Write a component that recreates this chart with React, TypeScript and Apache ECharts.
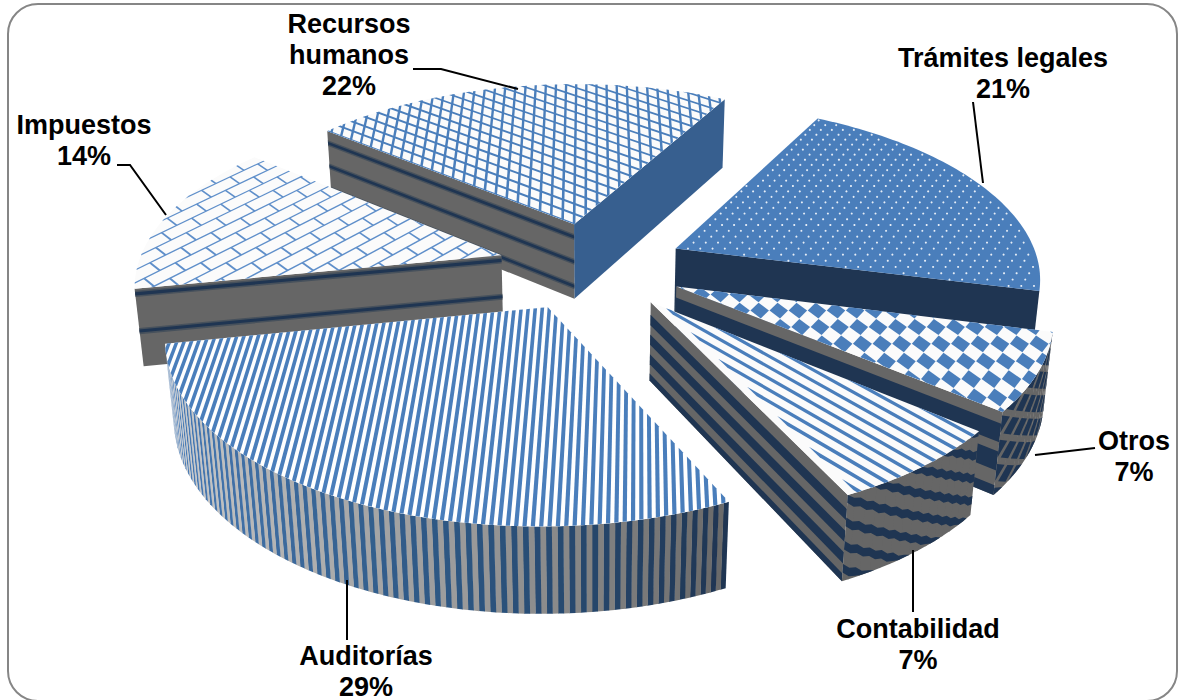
import React, { useEffect, useRef } from "react";
import * as echarts from "echarts";

// Clockwise from the first slice
const categories = ["Trámites legales", "Otros", "Contabilidad", "Auditorías", "Impuestos", "Recursos\nhumanos"];
const percents = [21, 7, 7, 29, 14, 22];
// Back-to-front painting order of the exploded slices
const paintOrder = [5, 0, 4, 1, 3, 2];

const labelAnchors = [[1003, 73], [1134, 456], [918, 644], [366, 671], [84, 140], [349, 55]];
const leaders = [
  [[973, 102], [983, 183]],
  [[1095, 448], [1035, 455]],
  [[913, 550], [913, 612]],
  [[347, 580], [347, 640]],
  [[117, 165], [130, 165], [166, 215]],
  [[413, 69], [441, 69], [518, 89]],
];

// Camera and pie solid, in units of the pie radius
const TILT = 0.4942;
const DIST = 5.8584;
const FOCAL = 2131.9;
const CX = 591.3;
const CY = 266.1;
const THICK = 0.2439;
const START = 0.4986;
const EXPLODE = 0.257;

const BLUE = "#4a7ebb";
const NAVY = "#1f3552";
const GRAY = "#666666";
const PAPER = "#fbfbfb";
const FONT = "bold 27px 'Liberation Sans', Arial, sans-serif";

type P = number[];
const V: P = [0.635, 0.773];
const dot = (a: P, b: P) => a[0] * b[0] + a[1] * b[1];
const dirOf = (t: number): P => [Math.sin(t), Math.cos(t)];
const unit = (a: P): P => {
  const l = Math.hypot(a[0], a[1]);
  return [a[0] / l, a[1] / l];
};

const project = (X: number, Y: number, Z: number): P => {
  const s = Math.sin(TILT), c = Math.cos(TILT);
  const d = DIST + Y * c - Z * s;
  return [CX + (FOCAL * X) / d, CY - (FOCAL * (Y * s + Z * c)) / d];
};

// Keep the part of a convex polygon where p.n >= c
const clip = (poly: P[], n: P, c: number): P[] => {
  const out: P[] = [];
  for (let i = 0; i < poly.length; i++) {
    const a = poly[i], b = poly[(i + 1) % poly.length];
    const da = dot(a, n) - c, db = dot(b, n) - c;
    if (da >= 0) out.push(a);
    if (da * db < 0) {
      const t = da / (da - db);
      out.push([a[0] + (b[0] - a[0]) * t, a[1] + (b[1] - a[1]) * t]);
    }
  }
  return out;
};
const neg = (n: P): P => [-n[0], -n[1]];
const strip = (poly: P[], n: P, a: number, b: number) => clip(clip(poly, n, a), neg(n), -b);

const mix = (a: string, b: string, t: number) => {
  const pa = [1, 3, 5].map((i) => parseInt(a.slice(i, i + 2), 16));
  const pb = [1, 3, 5].map((i) => parseInt(b.slice(i, i + 2), 16));
  return "rgb(" + pa.map((v, i) => Math.round(v + (pb[i] - v) * t)).join(",") + ")";
};

const angleSpans = () => {
  let acc = START;
  return percents.map((v) => {
    const span = (v * 3.6 * Math.PI) / 180;
    const item = { s: acc, e: acc + span, span };
    acc += span;
    return item;
  });
};

function buildSlice(i: number) {
  const { s, e, span } = angleSpans()[i];
  const mid = (s + e) / 2;
  const off: P = [EXPLODE * Math.sin(mid), EXPLODE * Math.cos(mid)];
  const toScreen = (p: P, z = 0) => project(off[0] + p[0], off[1] + p[1], z);
  const out: any[] = [];
  const poly = (pts: P[], fill: string) => {
    if (pts.length > 2) out.push({ type: "polygon", silent: true, shape: { points: pts }, style: { fill, stroke: null } });
  };
  const top = (pts: P[], fill: string) => poly(pts.map((p) => toScreen(p)), fill);

  const sector: P[] = [[0, 0]];
  for (let k = 0; k <= 64; k++) sector.push(dirOf(s + (span * k) / 64));

  const cam: P = [0, -DIST * Math.cos(TILT)];
  const facing = (n: P, p: P) => dot(n, [cam[0] - off[0] - p[0], cam[1] - off[1] - p[1]]) > 0;

  // Cut faces: bands run along the face at fractions of the thickness
  const cutFace = (t: number, fill: string, bands: number[][] = [], bandFill = NAVY) => {
    const d = dirOf(t);
    const q = (r: number, f: number) => toScreen([d[0] * r, d[1] * r], -THICK * f);
    poly([q(0, 0), q(1, 0), q(1, 1), q(0, 1)], fill);
    bands.forEach(([a, b]) => poly([q(0, a), q(1, a), q(1, b), q(0, b)], bandFill));
  };
  const nS: P = [-Math.cos(s), Math.sin(s)];
  const nE: P = [Math.cos(e), -Math.sin(e)];
  const startVisible = facing(nS, dirOf(s));
  const endVisible = facing(nE, dirOf(e));

  // One piece of the outer rim
  const rim = (t0: number, t1: number, fill: string) => {
    const pts: P[] = [];
    const n = Math.max(1, Math.ceil(Math.abs(t1 - t0) / 0.03));
    for (let k = 0; k <= n; k++) pts.push(toScreen(dirOf(t0 + ((t1 - t0) * k) / n), 0));
    for (let k = n; k >= 0; k--) pts.push(toScreen(dirOf(t0 + ((t1 - t0) * k) / n), -THICK));
    poly(pts, fill);
  };
  const rimFacing = (t: number) => facing(dirOf(t), dirOf(t));
  const plainRim = (fill: string) => {
    for (let t = s; t < e; t += 0.03) if (rimFacing(t)) rim(t, Math.min(t + 0.034, e), fill);
  };

  const softBands = (centers: number[]) => ({
    wide: centers.map((c) => [c - 0.04, c + 0.04]),
    core: centers.map((c) => [c - 0.02, c + 0.02]),
  });

  if (i === 0) {
    plainRim(NAVY);
    if (endVisible) cutFace(e, NAVY);
    poly(sector.map((p) => toScreen(p)), BLUE);
    // White dots on a staggered lattice
    const px = 0.0343, py = 0.036;
    const nSi: P = [Math.cos(s), -Math.sin(s)];
    const nEi: P = [-Math.cos(e), Math.sin(e)];
    for (let r = -40; r <= 40; r++) {
      for (let c = -40; c <= 40; c++) {
        const p: P = [(c + (r % 2 ? 0.5 : 0)) * px, r * py];
        if (dot(p, p) < 0.985 && dot(p, nSi) > 0.005 && dot(p, nEi) > 0.005) {
          const sc = toScreen(p);
          out.push({ type: "circle", silent: true, shape: { cx: sc[0], cy: sc[1], r: 1.05 }, style: { fill: "#e6edf6", stroke: null } });
        }
      }
    }
  } else if (i === 1) {
    if (endVisible) cutFace(e, GRAY, [[0.14, 0.36], [0.47, 0.7], [0.88, 1]]);
    plainRim(GRAY);
    // Navy diamonds on the rim
    const pitchU = 0.28, pitchZ = 0.145;
    for (let r = 0; r <= 7; r++) {
      for (let c = -1; c <= 4; c++) {
        const cu = (c + (r % 2 ? 0.5 : 0)) * pitchU + 0.02;
        const cz = r * pitchZ;
        const corner = (a: number, b: number) => {
          const uu = Math.min(1, Math.max(0, a)), zz = Math.min(1, Math.max(0, b));
          return toScreen(dirOf(s + span * uu), -THICK * zz);
        };
        const hu = pitchU * 0.36, hz = pitchZ * 0.72;
        poly([corner(cu - hu, cz), corner(cu, cz - hz), corner(cu + hu, cz), corner(cu, cz + hz)], NAVY);
      }
    }
    poly(sector.map((p) => toScreen(p)), PAPER);
    // Diamonds on a lattice aligned with the pie's own axes
    const ax = 0.0505, ay = 0.087, x0 = 0.418, y0 = -0.219;
    const A = ax / 2, B = ay / 2;
    for (let a = -24; a <= 24; a++) {
      for (let b = -16; b <= 16; b++) {
        const cx = x0 + a * ax, cy = y0 + b * ay;
        const center: P = [cx, cy];
        if (Math.hypot(cx, cy) > 1.1) continue;
        let cell = sector;
        for (const [sx, sy] of [[1, 1], [1, -1], [-1, 1], [-1, -1]]) {
          const n: P = [-sx / A, -sy / B];
          cell = clip(cell, n, dot(center, n) - 0.97);
          if (cell.length < 3) break;
        }
        top(cell, BLUE);
      }
    }
  } else if (i === 2) {
    if (endVisible) cutFace(e, GRAY, [[0.16, 0.29], [0.41, 0.54], [0.66, 0.79], [0.91, 1]]);
    plainRim(GRAY);
    // Wavy bands falling toward the right end of the rim
    const period = 0.27, slope = 1.05, w = 0.1;
    for (let k = -6; k <= 6; k++) {
      const up: P[] = [], low: P[] = [];
      const n = 24;
      for (let j = 0; j <= n; j++) {
        const u = j / n;
        const wob = j % 2 ? 0.012 : -0.012;
        const z0 = k * period + slope * (1 - u) + wob;
        const a = Math.min(1, Math.max(0, z0)), b = Math.min(1, Math.max(0, z0 + w));
        const t = s + span * u;
        up.push(toScreen(dirOf(t), -THICK * a));
        low.unshift(toScreen(dirOf(t), -THICK * b));
      }
      poly(up.concat(low), NAVY);
    }
    poly(sector.map((p) => toScreen(p)), PAPER);
    const inner = clip(sector, [-Math.cos(e), Math.sin(e)], 0.022);
    const n = unit([1.19, 1]);
    for (let k = -30; k <= 30; k++) top(strip(inner, n, k * 0.038, k * 0.038 + 0.0125), BLUE);
  } else if (i === 3) {
    // Vertical rim stripes, shaded from the dark right end to the lit left end
    const count = 70;
    const stopsBlue = ["#1f3552", "#2c5580", "#3f6ea3", "#4f82bf"];
    const stopsGray = ["#696969", "#9a9a9a", "#b8b8b8", "#d8d8d8"];
    const shade = (stops: string[], t: number) => {
      const x = t * (stops.length - 1);
      const j = Math.min(stops.length - 2, Math.floor(x));
      return mix(stops[j], stops[j + 1], x - j);
    };
    for (let k = 0; k < count * 2; k++) {
      const t0 = s + (span * k) / (count * 2);
      const t1 = s + (span * (k + 1)) / (count * 2);
      if (!rimFacing(t0)) continue;
      rim(t0, t1 + 0.001, shade(k % 2 ? stopsGray : stopsBlue, k / (count * 2 - 1)));
    }
    poly(sector.map((p) => toScreen(p)), "#ffffff");
    const n: P = [Math.cos(0.02), -Math.sin(0.02)];
    for (let k = -70; k <= 70; k++) top(strip(sector, n, k * 0.0187, k * 0.0187 + 0.0095), BLUE);
  } else if (i === 4) {
    plainRim(GRAY);
    if (startVisible) {
      const b = softBands([0.065, 0.54]);
      cutFace(s, GRAY, b.wide, "#47515c");
      cutFace(s, "rgba(0,0,0,0)", b.core);
    }
    poly(sector.map((p) => toScreen(p)), PAPER);
    // Running-bond bricks: courses and joints share one lattice
    const ax = 0.07, ay = 0.09, p0 = -0.827, q0 = 0.317, w = 0.06, brickBlue = "#5f8fca";
    const nRow: P = [1 / ax, -1 / ay];
    const nJoint: P = [1 / ax, 1 / ay];
    const rowAt = p0 / ax - q0 / ay;
    const jointAt = p0 / ax + q0 / ay;
    for (let k = -40; k <= 40; k++) {
      const rk = rowAt + k;
      top(strip(sector, nRow, rk - w, rk + w), brickBlue);
      for (let m = -40; m <= 40; m++) {
        if ((k + m) % 2 !== 0) continue;
        const jm = jointAt + m;
        top(strip(strip(sector, nJoint, jm - w, jm + w), nRow, rk, rk + 1), brickBlue);
      }
    }
  } else {
    if (endVisible) cutFace(e, "#375f8f");
    if (startVisible) {
      const b = softBands([0.17, 0.5, 0.83]);
      cutFace(s, GRAY, b.wide, "#47515c");
      cutFace(s, "rgba(0,0,0,0)", b.core);
    }
    poly(sector.map((p) => toScreen(p)), PAPER);
    // Lattice: one family front-to-back, the other along the first cut edge
    const wx = 0.0038, wv = 0.0055;
    for (let k = -45; k <= 45; k++) top(strip(sector, [1, 0], k * 0.033 - wx, k * 0.033 + wx), BLUE);
    for (let k = -30; k <= 30; k++) top(strip(sector, V, k * 0.05 - wv, k * 0.05 + wv), BLUE);
  }
  return out;
}

export default function App() {
  const ref = useRef<HTMLDivElement>(null);
  useEffect(() => {
    document.body.style.margin = "0";
    const chart = echarts.init(ref.current!, null, { renderer: "svg" });
    const texts = categories.map((name, i) => ({
      type: "text",
      silent: true,
      z: 10,
      x: labelAnchors[i][0],
      y: labelAnchors[i][1],
      style: {
        text: name + "\n" + percents[i] + "%",
        font: FONT,
        fill: "#000000",
        align: "center",
        verticalAlign: "middle",
        lineHeight: 31,
      },
    }));
    const lines = leaders.map((pts) => ({
      type: "polyline",
      silent: true,
      z: 9,
      shape: { points: pts },
      style: { stroke: "#000000", lineWidth: 2, fill: null },
    }));
    chart.setOption({
      animation: false,
      backgroundColor: "#ffffff",
      graphic: [
        {
          type: "rect",
          silent: true,
          z: -1,
          shape: { x: 8, y: 4, width: 1169, height: 697, r: 30 },
          style: { fill: "#ffffff", stroke: "#868686", lineWidth: 2 },
        },
        ...lines,
        ...texts,
      ],
      series: [
        {
          type: "custom",
          coordinateSystem: "none",
          silent: true,
          z: 5,
          clip: false,
          data: paintOrder.map((i) => ({ value: percents[i], name: categories[i] })),
          renderItem: (params: any) => ({
            type: "group",
            children: buildSlice(paintOrder[params.dataIndex]),
          }),
        },
      ],
    });
    return () => chart.dispose();
  }, []);
  return <div ref={ref} style={{ width: 1178, height: 700 }} />;
}
